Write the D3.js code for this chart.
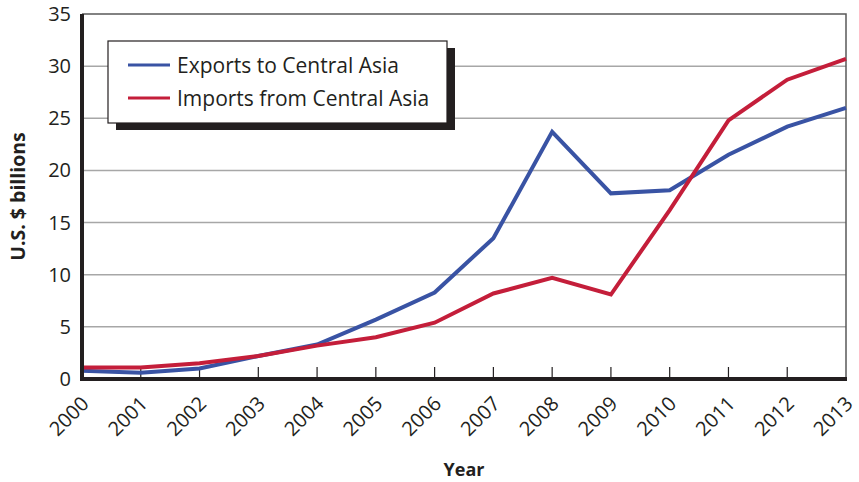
<!DOCTYPE html>
<html>
<head>
<meta charset="utf-8">
<script src="https://cdn.jsdelivr.net/npm/d3@7"></script>
<style>
  body { margin: 0; background: #fff; }
  text { font-family: "Open Sans", sans-serif; fill: #231f20; }
</style>
</head>
<body>
<script>
var years = [2000, 2001, 2002, 2003, 2004, 2005, 2006, 2007, 2008, 2009, 2010, 2011, 2012, 2013];
var exportsCA = [0.8, 0.6, 1.0, 2.2, 3.3, 5.7, 8.3, 13.5, 23.7, 17.8, 18.1, 21.5, 24.2, 26.0];
var importsCA = [1.1, 1.1, 1.5, 2.2, 3.2, 4.0, 5.4, 8.2, 9.7, 8.1, 16.2, 24.8, 28.7, 30.7];
var yTicks = [0, 5, 10, 15, 20, 25, 30, 35];
var seriesNames = ["Exports to Central Asia", "Imports from Central Asia"];
var seriesColors = ["#3953a4", "#c41e3a"];

var width = 859, height = 482;
var margin = { left: 82, right: 13, top: 14, bottom: 103 };

var svg = d3.select("body").append("svg")
            .attr("width", width)
            .attr("height", height);

var x = d3.scaleLinear()
          .domain([2000, 2013])
          .range([margin.left, width - margin.right]);

var y = d3.scaleLinear()
          .domain([0, 35])
          .range([height - margin.bottom, margin.top]);

// gridlines
svg.selectAll("line.grid")
   .data(yTicks.filter(function(d) { return d > 0 && d < 35; }))
   .enter()
   .append("line")
   .attr("x1", margin.left)
   .attr("x2", width - margin.right)
   .attr("y1", function(d) { return y(d); })
   .attr("y2", function(d) { return y(d); })
   .style("stroke", "#a7a7a7")
   .style("stroke-width", 1.5);

// top and right border
svg.append("path")
   .attr("d", "M" + margin.left + "," + y(35) + "H" + x(2013) + "V" + y(0))
   .style("fill", "none")
   .style("stroke", "#595959")
   .style("stroke-width", 1.5);

// x ticks pointing inward
svg.selectAll("line.xtick")
   .data(years.slice(1, -1))
   .enter()
   .append("line")
   .attr("x1", function(d) { return x(d); })
   .attr("x2", function(d) { return x(d); })
   .attr("y1", y(0))
   .attr("y2", y(0) - 12)
   .style("stroke", "#231f20")
   .style("stroke-width", 1.2);

// lines
var line = d3.line()
             .x(function(d, i) { return x(years[i]); })
             .y(function(d) { return y(d); });

[exportsCA, importsCA].forEach(function(s, i) {
    svg.append("path")
       .datum(s)
       .attr("d", line)
       .style("fill", "none")
       .style("stroke", seriesColors[i])
       .style("stroke-width", 4)
       .style("stroke-linejoin", "miter");
});

// main axes lines
svg.append("path")
   .attr("d", "M" + margin.left + "," + margin.top + "V" + y(0) + "H" + (x(2013) + 1))
   .style("fill", "none")
   .style("stroke", "#231f20")
   .style("stroke-width", 4);

// y tick labels
svg.selectAll("text.ylab")
   .data(yTicks)
   .enter()
   .append("text")
   .attr("x", 71)
   .attr("y", function(d) { return y(d) + 7; })
   .attr("text-anchor", "end")
   .style("font-size", "20px")
   .text(function(d) { return d; });

// x tick labels
svg.selectAll("text.xlab")
   .data(years)
   .enter()
   .append("text")
   .attr("transform", function(d) { return "translate(" + (x(d) + 8) + "," + 405 + ") rotate(-45)"; })
   .attr("text-anchor", "end")
   .style("font-size", "20px")
   .text(function(d) { return d; });

// axis titles
svg.append("text")
   .attr("x", (x(2000) + x(2013)) / 2)
   .attr("y", 476)
   .attr("text-anchor", "middle")
   .style("font-size", "18px")
   .style("font-weight", "bold")
   .text("Year");

svg.append("text")
   .attr("transform", "translate(25," + y(17.5) + ") rotate(-90)")
   .attr("text-anchor", "middle")
   .style("font-size", "19.5px")
   .style("font-weight", "bold")
   .text("U.S. $ billions");

// legend
var lg = svg.append("g").attr("transform", "translate(108,41)");
lg.append("rect")
  .attr("x", 8).attr("y", 7)
  .attr("width", 339).attr("height", 82)
  .style("fill", "#231f20");
lg.append("rect")
  .attr("x", 0).attr("y", 0)
  .attr("width", 339).attr("height", 82)
  .style("fill", "#fff")
  .style("stroke", "#231f20")
  .style("stroke-width", 1.2);

var items = lg.selectAll("g.item")
              .data(seriesNames)
              .enter()
              .append("g")
              .attr("transform", function(d, i) { return "translate(0," + (24 + i * 33) + ")"; });
items.append("line")
     .attr("x1", 20).attr("x2", 62)
     .attr("y1", 0).attr("y2", 0)
     .style("stroke", function(d, i) { return seriesColors[i]; })
     .style("stroke-width", 3);
items.append("text")
     .attr("x", 69)
     .attr("y", 8)
     .style("font-size", "21px")
     .text(function(d) { return d; });
</script>
</body>
</html>
